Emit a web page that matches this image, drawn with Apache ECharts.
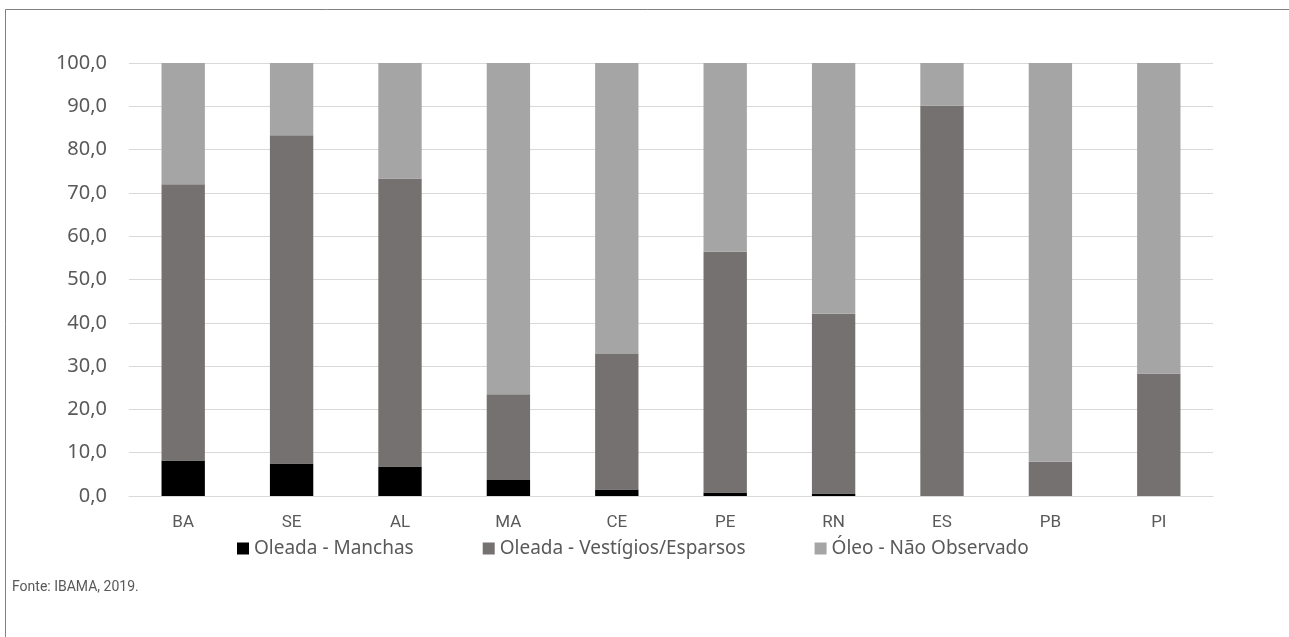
<!DOCTYPE html>
<html>
<head>
<meta charset="utf-8">
<script src="https://cdn.jsdelivr.net/npm/echarts@6/dist/echarts.min.js"></script>
<style>
html,body{margin:0;padding:0;background:#fff;}
#chart{width:1289px;height:637px;}
</style>
</head>
<body>
<div id="chart"></div>
<script>
// estados
var estados = ['BA','SE','AL','MA','CE','PE','RN','ES','PB','PI'];
// % de localidades por situacao
var manchas    = [8.2, 7.5, 6.8, 3.7, 1.5, 0.8, 0.6, 0, 0, 0];
var vestigios  = [63.8, 75.8, 66.5, 19.8, 31.3, 55.6, 41.5, 90.2, 7.9, 28.3];
var naoObserv  = [28.0, 16.7, 26.7, 76.5, 67.2, 43.6, 57.9, 9.8, 92.1, 71.7];
var nomes = ['Oleada - Manchas', 'Oleada - Vestígios/Esparsos', 'Óleo - Não Observado'];

var myChart = echarts.init(document.getElementById('chart'));
var option = {
    backgroundColor: '#fff',
    animation: false,
    graphic: [
        {   // moldura
            type: 'rect',
            shape: {x: 5.5, y: 9.5, width: 1400, height: 800},
            style: {fill: 'none', stroke: '#808080', lineWidth: 1}
        },
        {
            type: 'text',
            left: 12, top: 580,
            style: {text: 'Fonte: IBAMA, 2019.', fill: '#595959', font: '14px "Roboto", sans-serif'}
        }
    ],
    legend: {
        data: nomes,
        left: 232,
        top: 534,
        itemWidth: 12,
        itemHeight: 12,
        itemGap: 69,
        icon: 'rect',
        selectedMode: false,
        textStyle: {color: '#595959', fontSize: 19, fontFamily: '"Noto Sans", sans-serif'}
    },
    grid: {
        left: 129,
        right: 76,
        top: 63,
        bottom: 141
    },
    xAxis: {
        type: 'category',
        data: estados,
        axisLine: {lineStyle: {color: '#d9d9d9'}},
        axisTick: {show: false},
        axisLabel: {color: '#595959', fontSize: 17, margin: 18, fontFamily: '"Roboto", sans-serif'}
    },
    yAxis: {
        type: 'value',
        min: 0,
        max: 100,
        interval: 10,
        axisLine: {show: false},
        axisTick: {show: false},
        splitLine: {lineStyle: {color: '#d9d9d9'}},
        axisLabel: {
            color: '#595959',
            fontSize: 20,
            margin: 22,
            fontFamily: '"Noto Sans", sans-serif',
            formatter: function(v){ return v.toFixed(1).replace('.', ','); }
        }
    },
    series: [
        {name: nomes[0], type: 'bar', stack: 'total', data: manchas, barWidth: '40%',
         itemStyle: {color: '#000000'}},
        {name: nomes[1], type: 'bar', stack: 'total', data: vestigios, barWidth: '40%',
         itemStyle: {color: '#767171'}},
        {name: nomes[2], type: 'bar', stack: 'total', data: naoObserv, barWidth: '40%',
         itemStyle: {color: '#a5a5a5'}}
    ]
};
myChart.setOption(option);
</script>
</body>
</html>
